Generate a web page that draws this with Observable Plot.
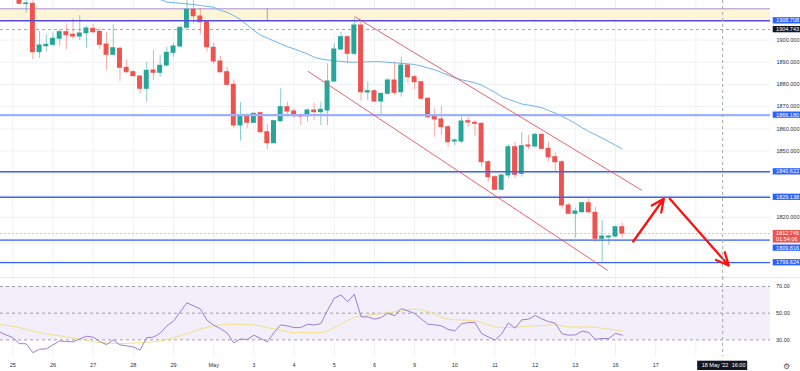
<!DOCTYPE html>
<html><head><meta charset="utf-8">
<script src="https://cdn.jsdelivr.net/npm/d3@7"></script>
<script src="https://cdn.jsdelivr.net/npm/@observablehq/plot@0.6"></script>
<style>
body{margin:0;background:#fff;}
#chart{position:relative;width:800px;height:371px;overflow:hidden;font-family:"Liberation Sans",Arial,sans-serif;background:#fff;}
#chart svg{position:absolute;left:0;display:block;}
#sep{position:absolute;left:0;top:277px;width:800px;height:1px;background:#e3e5ea;}
</style></head><body><div id="chart"><div id="sep"></div></div>
<script>
// ---- data (4h candles, index 0 = 25 Apr 00:00) ----
const opens  = [1919.2,1916.23,1916.36,1894.54,1897.24,1897.87,1900.58,1903.56,1902.38,1901.62,1903.1,1905.09,1903.74,1898.01,1893.37,1896.07,1887.5,1885.52,1883.58,1878.04,1886.29,1885.25,1888.54,1894.27,1897.11,1905.54,1913.66,1910.64,1908.07,1896.52,1890.35,1885.52,1879.84,1861.49,1866.0,1862.7,1867.03,1858.47,1853.5,1863.43,1869.74,1867.8,1866.0,1865.68,1868.25,1867.48,1868.25,1881.33,1895.76,1901.3,1893.82,1906.58,1876.37,1876.95,1872.31,1875.78,1881.78,1876.5,1888.54,1883.27,1881.01,1873.53,1865.55,1864.2,1860.72,1854.27,1854.27,1863.43,1862.7,1862.25,1844.94,1838.18,1832.5,1838.94,1851.7,1839.71,1852.47,1852.02,1857.29,1850.98,1847.2,1844.94,1825.42,1821.67,1822.39,1826.45,1822.12,1810.4,1811.0,1811.44,1815.63];
const highs  = [1920.5,1918.0,1918.3,1904.01,1902.38,1903.29,1904.64,1907.34,1909.6,1911.09,1906.26,1907.03,1905.09,1903.42,1906.89,1896.79,1891.11,1886.29,1884.03,1890.03,1895.3,1893.05,1896.79,1898.33,1905.81,1918.75,1918.3,1914.11,1908.52,1898.6,1892.6,1887.77,1882.09,1871.72,1866.76,1867.03,1867.48,1861.94,1863.74,1878.04,1871.99,1869.02,1866.76,1869.02,1871.54,1871.99,1889.31,1898.33,1903.56,1902.07,1909.6,1909.15,1881.01,1877.59,1875.92,1882.55,1890.03,1892.28,1888.99,1884.03,1881.46,1873.8,1869.02,1870.0,1861.49,1855.49,1865.23,1865.23,1863.74,1862.7,1845.7,1838.94,1839.26,1852.79,1853.96,1858.33,1856.98,1857.75,1857.75,1853.96,1849.0,1845.7,1826.45,1824.2,1826.9,1828.44,1824.65,1818.65,1811.89,1816.08,1817.62];
const lows   = [1916.05,1912.12,1891.25,1891.83,1894.54,1897.24,1897.24,1895.62,1900.13,1899.81,1896.34,1902.83,1895.76,1886.29,1893.05,1881.33,1885.07,1883.45,1875.47,1872.0,1881.78,1883.27,1887.77,1892.28,1896.79,1905.09,1907.34,1902.38,1894.54,1888.99,1885.07,1879.07,1860.27,1854.41,1860.0,1862.52,1857.75,1850.53,1853.24,1862.97,1865.23,1864.78,1861.49,1862.97,1863.74,1861.49,1861.49,1881.01,1895.3,1889.31,1893.05,1872.44,1872.76,1872.0,1866.0,1875.33,1875.02,1874.25,1880.56,1877.59,1873.08,1864.51,1856.21,1857.0,1851.7,1852.47,1853.24,1860.72,1856.53,1842.68,1835.92,1832.18,1832.18,1837.45,1837.45,1838.18,1850.53,1851.43,1850.53,1844.94,1840.43,1823.93,1821.36,1810.67,1821.94,1821.67,1808.87,1799.85,1807.38,1811.0,1810.67];
const closes = [1916.36,1916.5,1894.54,1897.56,1897.87,1900.58,1903.56,1902.2,1901.62,1902.97,1905.22,1903.56,1897.87,1893.37,1896.34,1887.5,1885.52,1883.72,1878.04,1886.15,1885.25,1888.41,1894.27,1897.11,1905.54,1913.66,1910.77,1908.07,1896.79,1890.35,1885.52,1879.84,1861.49,1866.0,1862.7,1866.76,1858.47,1853.5,1863.43,1869.74,1867.8,1865.68,1865.55,1868.25,1867.48,1868.57,1881.33,1895.76,1901.3,1893.82,1906.58,1876.5,1876.95,1872.31,1875.78,1881.78,1876.23,1888.54,1883.27,1881.01,1873.53,1865.23,1864.2,1860.72,1853.96,1854.72,1863.29,1862.84,1862.25,1844.94,1838.18,1832.5,1838.94,1851.7,1839.26,1852.15,1852.02,1857.29,1850.98,1847.2,1844.94,1825.42,1821.67,1822.71,1826.45,1822.39,1810.4,1811.44,1811.44,1815.63,1812.745];
const firstCandle = 1;

const maStart = 22;
const maValues = [1918.3,1917.17,1916.86,1916.59,1916.32,1916.05,1915.6,1915.24,1914.83,1913.39,1912.58,1911.0,1909.28,1906.8,1904.32,1902.2,1900.94,1899.59,1898.33,1897.02,1896.07,1894.85,1893.77,1892.24,1891.47,1891.02,1890.71,1890.39,1890.12,1890.03,1890.07,1890.21,1890.3,1890.21,1889.98,1889.76,1889.53,1889.26,1888.99,1888.27,1887.41,1886.6,1885.43,1884.21,1882.95,1882.09,1881.42,1880.74,1879.7,1878.08,1876.46,1874.39,1873.35,1872.31,1871.18,1870.69,1870.15,1869.52,1868.25,1867.08,1865.64,1864.11,1862.39,1860.5,1858.83,1857.34,1855.81,1854.27,1852.56,1850.98];

const rsiStart = -2;
const rsiValues = [36.0,33.7,31.7,27.2,27.0,20.4,23.0,23.2,26.2,29.2,28.7,28.5,30.7,32.7,32.0,28.7,26.4,30.0,26.2,25.5,24.7,22.2,31.7,32.0,35.0,40.5,44.0,51.0,57.7,55.5,53.2,44.7,41.0,38.4,35.2,27.7,30.7,30.2,33.5,31.0,28.5,35.5,41.2,40.5,39.2,39.2,41.7,41.2,42.2,52.2,61.2,63.7,58.5,64.2,47.2,47.2,45.5,46.7,50.0,48.0,53.5,51.7,49.7,45.7,41.7,41.2,40.5,37.8,36.7,42.0,43.0,43.0,34.7,32.2,29.7,34.5,42.7,38.7,45.0,45.5,48.3,45.7,43.7,42.5,34.5,33.5,33.7,36.5,35.6,30.3,31.0,31.0,34.8,33.5];

const rsiMaIdx = [-2,1,4,7,10,13,16,19,22,25,28,31,33,36,38,40,42,46,48,51,53,55,58,60,62,65,69,73,78,81,83,86,89,91];
const rsiMaVal = [41.7,39.2,35.4,33.0,30.5,27.9,27.2,27.9,29.2,33.0,38.0,41.2,41.7,41.2,39.2,37.2,35.4,35.4,39.2,46.7,48.5,49.7,51.7,53.0,51.2,45.5,44.2,39.2,40.5,41.2,39.7,39.7,38.0,36.7];

const dayIdx = [0,6,12,18,24,30,36,42,48,54,60,66,72,78,84,90,96,102];
const dayLabels = ["25","26","27","28","29","May","3","4","5","6","9","10","11","12","13","16","17",""];

const gridPrices = [1800,1810,1820,1830,1840,1850,1860,1870,1880,1890,1900,1910];
const axisPrices = [1900,1890,1880,1870,1860,1850,1820];
const rsiLevels = [70,50,30];

const zoneLow = 1908.708, zoneHigh = 1914.1, zoneSplit = 38;
const levelPrices = [1840.622,1829.138,1809.816,1799.624];
const strongLevel = 1866.180;
const dashedLevel = 1904.743;
const lastPrice = 1812.745;

const channel = [{j1:51.02,p1:1910.64,j2:93.98,p2:1832.18},{j1:44.05,p1:1885.97,j2:88.85,p2:1796.11}];
const arrows = [{j1:92.64,p1:1809.18,j2:97.21,p2:1828.44},{j1:98.1,p1:1828.44,j2:106.9,p2:1798.36}];
const crossIdx = 106;

const tagPrices = [1908.708,1904.743,1866.180,1840.622,1829.138,1812.745,1809.816,1799.624];
const tagTexts  = [["1908.708"],["1904.743"],["1866.180"],["1840.622"],["1829.138"],["1812.745","01:54:06"],["1809.816"],["1799.624"]];
const tagColors = ["#2962ff","#131722","#2962ff","#2962ff","#2962ff","#ef5350","#2962ff","#2962ff"];
const tagShift  = [0,0,0,0,0,0,8,0];

// ---- build ----
const X0 = -1.837, X1 = 113.14;
const GREEN = "#26a69a", RED = "#ef5350";
const candles = opens.map((o,i)=>({j:i+firstCandle,o,h:highs[i],l:lows[i],c:closes[i]}));
const ups = candles.filter(d=>d.c>=d.o), downs = candles.filter(d=>d.c<d.o);
const ma = maValues.map((v,i)=>({j:i+maStart,v}));
const rsi = rsiValues.map((v,i)=>({j:i+rsiStart,v}));
const rsiMa = rsiMaIdx.map((j,i)=>({j,v:rsiMaVal[i]}));
const FONT = "Liberation Sans, Arial, sans-serif";
const FS = 5.5;

function tagLayer(index, scales, values, dims) {
  const g = d3.create("svg:g").attr("font-family", FONT).attr("font-size", FS).attr("text-anchor","start");
  const x0 = dims.width - dims.marginRight + 2.7;
  tagPrices.forEach((p,k)=>{
    const y = scales.y(p) + tagShift[k];
    const lines = tagTexts[k];
    g.append("rect").attr("x",x0).attr("y",y-3.1).attr("width",dims.width-x0).attr("height",6.3*lines.length).attr("fill",tagColors[k]);
    lines.forEach((t,m)=>{
      g.append("text").attr("x",x0+3.4).attr("y",y+6.3*m).attr("dy","0.36em").attr("fill","#fff").attr("text-anchor","start").text(t);
    });
  });
  return g.node();
}

const main = Plot.plot({
  width:800, height:277, marginTop:0, marginBottom:0, marginLeft:0, marginRight:30,
  x:{domain:[X0,X1], axis:null},
  y:{domain:[1792.95,1917.85], axis:null},
  style:{background:"transparent", overflow:"visible", fontFamily:FONT},
  marks:[
    Plot.ruleX(dayIdx,{x:d=>d, stroke:"#f0f1f4"}),
    Plot.ruleY(gridPrices,{y:d=>d, stroke:"#f0f1f4"}),
    Plot.rect([{x1:X0,x2:X1,y1:zoneLow,y2:zoneHigh}],{x1:"x1",x2:"x2",y1:"y1",y2:"y2",fill:"#fdf6d6"}),
    Plot.ruleY([zoneHigh],{y:d=>d, stroke:"#a893d8", strokeWidth:1}),
    Plot.ruleX([zoneSplit],{x:d=>d, y1:zoneLow, y2:zoneHigh, stroke:"#a893d8"}),
    Plot.ruleY([dashedLevel],{y:d=>d, stroke:"#a3a6ad", strokeDasharray:"3,3"}),
    Plot.ruleY([lastPrice],{y:d=>d, stroke:"#f6b8b7", strokeDasharray:"2,2"}),
    Plot.line(ma,{x:"j",y:"v",stroke:"#6db3f2",strokeWidth:1,clip:true}),
    Plot.ruleX(ups,{x:"j",y1:"l",y2:"h",stroke:GREEN,strokeOpacity:0.55,clip:true}),
    Plot.ruleX(downs,{x:"j",y1:"l",y2:"h",stroke:RED,strokeOpacity:0.5,clip:true}),
    Plot.rect(ups,{x1:d=>d.j-0.37,x2:d=>d.j+0.37,y1:"o",y2:"c",fill:GREEN,insetTop:-0.5,insetBottom:-0.5,clip:true}),
    Plot.rect(downs,{x1:d=>d.j-0.37,x2:d=>d.j+0.37,y1:"o",y2:"c",fill:RED,insetTop:-0.5,insetBottom:-0.5,clip:true}),
    Plot.ruleY([zoneLow],{y:d=>d, stroke:"#5a4ad8", strokeWidth:1.4}),
    Plot.ruleY([strongLevel],{y:d=>d, stroke:"#9eb0f7", strokeWidth:2.4}),
    Plot.ruleY(levelPrices,{y:d=>d, stroke:"#3a63f0", strokeWidth:1.3}),
    Plot.link(channel,{x1:"j1",y1:"p1",x2:"j2",y2:"p2",stroke:"#f0505c",strokeWidth:1,strokeOpacity:0.9}),
    Plot.arrow(arrows,{x1:"j1",y1:"p1",x2:"j2",y2:"p2",stroke:"#ff1010",strokeWidth:2.3,headLength:9,headAngle:50}),
    Plot.ruleX([crossIdx],{x:d=>d, stroke:"#a3a6ad", strokeDasharray:"3,3"}),
    Plot.text(axisPrices,{y:d=>d, text:d=>d.toFixed(3), frameAnchor:"right", dx:6, textAnchor:"start", fontSize:FS, fill:"#2a2e39"}),
    tagLayer
  ]
});
main.style.top = "0px";

function bottomLayer(index, scales, values, dims) {
  const g = d3.create("svg:g").attr("font-family", FONT).attr("font-size", FS).attr("text-anchor","start");
  const cx = scales.x(crossIdx);
  g.append("rect").attr("x",cx-25).attr("y",83.7).attr("width",50).attr("height",9.3).attr("fill","#131722");
  g.append("text").attr("x",cx-20.5).attr("y",88.4).attr("dy","0.36em").attr("fill","#fff").attr("text-anchor","start").text("18 May '22");
  g.append("text").attr("x",cx+9.5).attr("y",88.4).attr("dy","0.36em").attr("fill","#fff").attr("text-anchor","start").text("16:00");
  g.append("text").attr("x",dims.width-17).attr("y",89).attr("dy","0.36em").attr("font-size",8).attr("fill","#555").attr("font-family","DejaVu Sans").attr("text-anchor","start").text("\u2699");
  return g.node();
}

const rsiPlot = Plot.plot({
  width:800, height:94, marginTop:0, marginBottom:15, marginLeft:0, marginRight:30,
  x:{domain:[X0,X1], axis:null},
  y:{domain:[17.5,76.75], axis:null},
  style:{background:"transparent", overflow:"visible", fontFamily:FONT},
  marks:[
    Plot.ruleX(dayIdx,{x:d=>d, stroke:"#f0f1f4"}),
    Plot.rect([{x1:X0,x2:X1,y1:30,y2:70}],{x1:"x1",x2:"x2",y1:"y1",y2:"y2",fill:"#f2eefa"}),
    Plot.ruleY(rsiLevels,{y:d=>d, stroke:"#a09ca8", strokeDasharray:"3,3"}),
    Plot.line(rsiMa,{x:"j",y:"v",stroke:"#f5df8a",strokeWidth:1,curve:"monotone-x",clip:true}),
    Plot.line(rsi,{x:"j",y:"v",stroke:"#9a7fd6",strokeWidth:1,clip:true}),
    Plot.ruleX([crossIdx],{x:d=>d, stroke:"#a3a6ad", strokeDasharray:"3,3"}),
    Plot.text(rsiLevels,{y:d=>d, text:d=>d.toFixed(2), frameAnchor:"right", dx:5.5, textAnchor:"start", fontSize:FS, fill:"#2a2e39"}),
    Plot.text(dayIdx.filter((d,i)=>dayLabels[i]),{x:d=>d, text:d=>dayLabels[dayIdx.indexOf(d)], frameAnchor:"bottom", dy:10, fontSize:FS, fill:"#2a2e39"}),
    bottomLayer
  ]
});
rsiPlot.style.top = "277px";

const chart = document.getElementById("chart");
chart.appendChild(main);
chart.appendChild(rsiPlot);
</script></body></html>
